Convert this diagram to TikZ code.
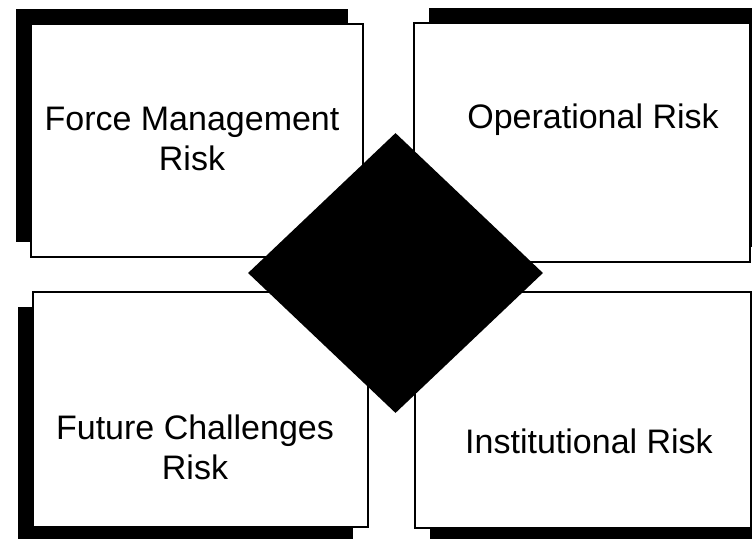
\documentclass[tikz,border=0pt]{standalone}
\usepackage{fontspec}
\setmainfont{Liberation Sans}
\usepackage{tikz}
\usetikzlibrary{shapes.geometric,shadows}

\begin{document}
\begin{tikzpicture}[
  x=1pt, y=-1pt,
  font=\fontsize{34}{40}\selectfont,
  riskbox/.style={draw, line width=1.2pt, fill=white, inner sep=0pt},
  shade tl/.style={drop shadow={shadow xshift=-15pt, shadow yshift=15pt, fill=black, opacity=1}},
  shade tr/.style={drop shadow={shadow xshift=15pt, shadow yshift=15pt, fill=black, opacity=1}},
  shade bl/.style={drop shadow={shadow xshift=-15pt, shadow yshift=-15pt, fill=black, opacity=1}},
  shade br/.style={drop shadow={shadow xshift=15pt, shadow yshift=-15pt, fill=black, opacity=1}},
  label/.style={align=center, inner sep=0pt, anchor=base}
]
\clip (0,0) rectangle (752,538);
% four quadrants
\node[riskbox, shade tl, minimum width=332pt, minimum height=233pt] (fm) at (197,140.5) {};
\node[riskbox, shade tr, minimum width=336pt, minimum height=239pt] (op) at (582,142.5) {};
\node[riskbox, shade bl, minimum width=335pt, minimum height=235pt] (fc) at (200.5,409.5) {};
\node[riskbox, shade br, minimum width=336pt, minimum height=236pt] (in) at (583,410) {};
% labels (base = last line)
\node[label] (fmtext) at (192,170) {Force Management\\Risk};
\node[label] (optext) at (593,128) {Operational Risk};
\node[label] (fctext) at (195,479) {Future Challenges\\Risk};
\node[label] (intext) at (589,453) {Institutional Risk};
% centre
\node[diamond, fill=black, inner sep=0pt, minimum width=295pt, minimum height=280pt] (hub) at (395.5,273) {};
\end{tikzpicture}
\end{document}
